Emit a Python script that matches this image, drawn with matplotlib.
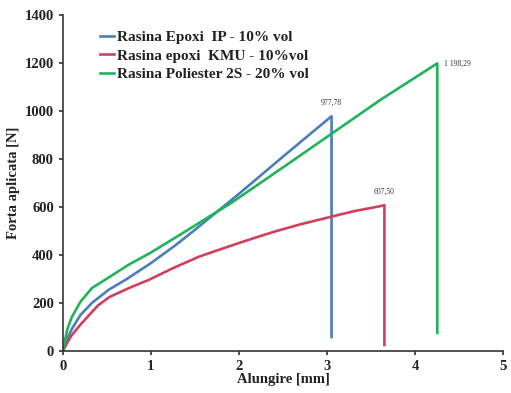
import matplotlib
matplotlib.use("Agg")
import matplotlib.pyplot as plt

# Data
blue_x = [0, 0.05, 0.1, 0.2, 0.33, 0.52, 0.71, 1.0, 1.28, 1.47, 2.0, 2.5, 3.05, 3.05]
blue_y = [0, 50, 90, 150, 200, 255, 296, 366, 441, 496, 655, 810, 978, 58]
red_x = [0, 0.05, 0.1, 0.2, 0.3, 0.4, 0.53, 0.75, 0.975, 1.25, 1.54, 1.8, 2.1, 2.4, 2.7, 3.0, 3.3, 3.6, 3.65, 3.65]
red_y = [0, 35, 65, 110, 150, 190, 225, 262, 296, 345, 392, 425, 462, 497, 528, 555, 582, 603, 607.5, 25]
green_x = [0, 0.05, 0.1, 0.2, 0.33, 0.52, 0.75, 1.0, 1.4, 1.9, 2.5, 3.05, 3.6, 4.25, 4.25]
green_y = [0, 90, 140, 205, 262, 306, 360, 410, 500, 614, 765, 905, 1045, 1198.29, 75]
labels = ["Rasina Epoxi  IP - 10% vol", "Rasina epoxi  KMU - 10%vol", "Rasina Poliester 2S - 20% vol"]
peak_texts = ["977,78", "607,50", "1 198,29"]
x_ticks = [0, 1, 2, 3, 4, 5]
y_ticks = [0, 200, 400, 600, 800, 1000, 1200, 1400]

colors = ["#4a7ebb", "#d0405a", "#1fb45a"]

plt.rcParams['font.family'] = ['Liberation Serif', 'DejaVu Serif']

fig = plt.figure(figsize=(5.11, 3.93), dpi=100)
ax = fig.add_axes([0.123, 0.107, 0.862, 0.855])

series = [(blue_x, blue_y), (red_x, red_y), (green_x, green_y)]
for (xs, ys), c, lab in zip(series, colors, labels):
    ax.plot(xs, ys, color=c, lw=1.9, label=lab)

# peak annotations
offsets = [(0, 7, 'center', 'bottom'), (0, 7, 'center', 'bottom'), (5, 0, 'left', 'center')]
for (xs, ys), t, (dx, dy, ha, va) in zip(series, peak_texts, offsets):
    i = ys.index(max(ys))
    ax.annotate(t, (xs[i], ys[i]), xytext=(dx, dy), textcoords='offset points',
                fontsize=5.5, color='#333333', ha=ha, va=va)

ax.set_xlim(0, 5)
ax.set_ylim(0, 1400)
ax.set_xticks(x_ticks)
ax.set_yticks(y_ticks)
ax.spines['top'].set_visible(False)
ax.spines['right'].set_visible(False)
for s in ['left', 'bottom']:
    ax.spines[s].set_linewidth(1.2)
    ax.spines[s].set_color('#333333')
ax.tick_params(direction='out', length=3, width=1.2, colors='#333333', labelsize=10.5)
for lbl in ax.get_xticklabels() + ax.get_yticklabels():
    lbl.set_fontweight('bold')
    lbl.set_color('#222222')

ax.set_xlabel("Alungire [mm]", fontsize=10.5, fontweight='bold', labelpad=0, color='#222222')
ax.set_ylabel("Forta aplicata [N]", fontsize=10.5, fontweight='bold', labelpad=3, color='#222222')

leg = ax.legend(loc='upper left', bbox_to_anchor=(0.06, 0.985), frameon=False,
                prop={'family': 'Liberation Serif', 'weight': 'bold', 'size': 11},
                handlelength=0.9, handletextpad=0.2, labelspacing=0.3, borderpad=0.2)
for t in leg.get_texts():
    t.set_color('#222222')

fig.savefig("out.png", dpi=100)
